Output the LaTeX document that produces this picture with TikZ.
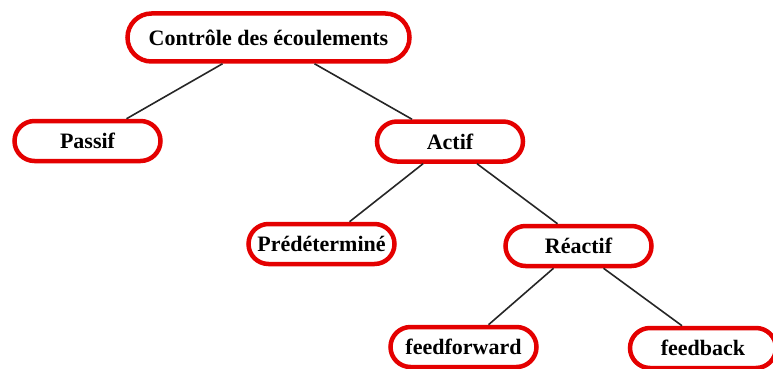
\documentclass[tikz,border=0pt]{standalone}
\usepackage{fontspec}
\setmainfont{Liberation Serif}
\usepackage{tikz}
\usetikzlibrary{shapes.misc}

\definecolor{boxred}{RGB}{228,0,0}

\tikzset{
    box/.style={rounded rectangle, draw=boxred, line width=4.5pt, fill=white,
        minimum width=150pt, minimum height=40pt, inner sep=2pt,
        font=\fontsize{22}{24}\selectfont\bfseries},
    link/.style={draw=black!85, line width=1.6pt}
}

\begin{document}
\begin{tikzpicture}[x=1pt,y=-1pt]
    \useasboundingbox (0,0) rectangle (773,369);

    % the tree, top to bottom
    \node[box, minimum width=286pt, minimum height=48pt] (root) at (268.5,37.5) {Contrôle des écoulements};
    \node[box] (passif) at (87.5,141) {Passif};
    \node[box] (actif)  at (450,141.5) {Actif};
    \node[box] (predet) at (321.5,244) {Prédéterminé};
    \node[box] (react)  at (578.5,246) {Réactif};
    \node[box] (ffwd)   at (463.5,347) {feedforward};
    \node[box] (fback)  at (703,348) {feedback};

    % connectors, ends sit on the red border
    \foreach \a/\b/\da/\db in {root/passif/-46/39, root/actif/46/-38,
                               actif/predet/-27/28, actif/react/27/-21,
                               react/ffwd/-25/25, react/fback/25/-21}{
        \draw[link] ([xshift=\da pt]\a.south) -- ([xshift=\db pt]\b.north);
    }
\end{tikzpicture}
\end{document}
